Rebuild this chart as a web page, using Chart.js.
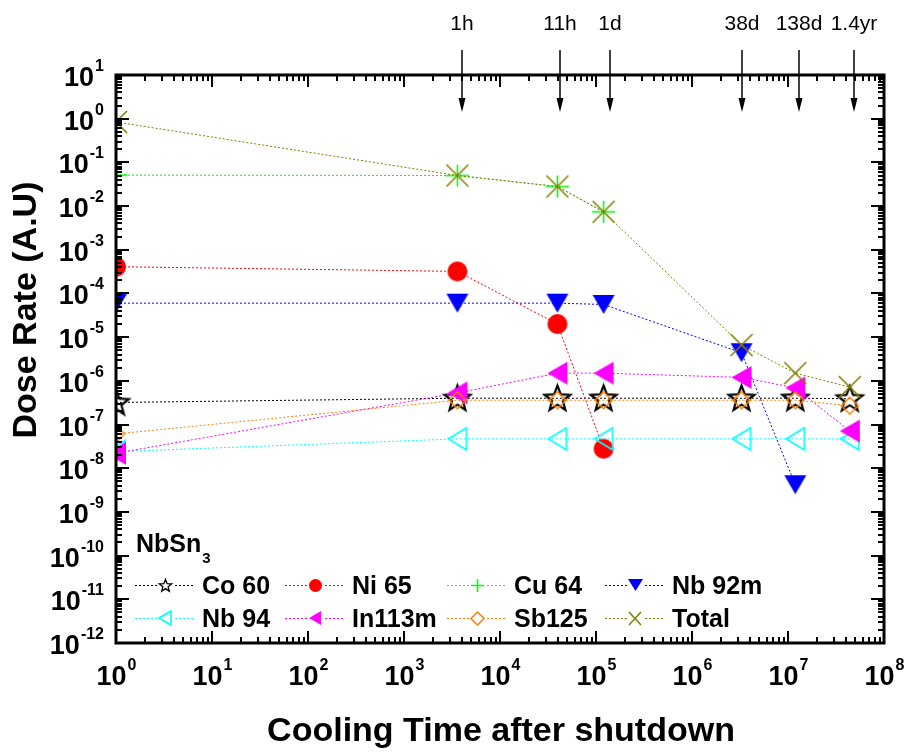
<!DOCTYPE html>
<html>
<head>
<meta charset="utf-8">
<script src="https://cdn.jsdelivr.net/npm/chart.js@4"></script>
<style>
  body { margin: 0; background: #fff; }
  #wrap { width: 906px; height: 754px; }
</style>
</head>
<body>
<div id="wrap"><canvas id="myChart" width="906" height="754"></canvas></div>
<script>
// cooling times (s) of the data points
const coolingTimes = [1, 3600, 39600, 120000, 3.28e6, 1.19e7, 4.4e7];
// dose rate per nuclide (A.U)
const co60 = [3.2e-7, 4.0e-7, 4.0e-7, 4.0e-7, 4.0e-7, 4.0e-7, 3.9e-7];
const ni65 = [4.1e-4, 3.2e-4, 2.0e-5, 2.8e-8];
const cu64 = [0.051, 0.05, 0.028, 0.0074];
const nb92m = [6.0e-5, 6.0e-5, 6.0e-5, 5.6e-5, 4.4e-6, 4.2e-9];
const nb94 = [2.4e-8, 4.7e-8, 4.7e-8, 4.7e-8, 4.7e-8, 4.7e-8, 4.7e-8];
const in113m = [2.2e-8, 5.3e-7, 1.5e-6, 1.5e-6, 1.2e-6, 6.9e-7, 7.1e-8];
const sb125 = [6.1e-8, 3.6e-7, 3.6e-7, 3.6e-7, 3.6e-7, 3.6e-7, 2.7e-7];
const total = [0.84, 0.05, 0.028, 0.0074, 6.6e-6, 1.5e-6, 7.2e-7];
const seriesNames = ["Co 60", "Ni 65", "Cu 64", "Nb 92m", "Nb 94", "In113m", "Sb125", "Total"];

// arrows on top of the plot
const arrowTimes = [4.0e3, 4.2e4, 1.4e5, 3.3e6, 1.3e7, 4.9e7];
const arrowLabels = ["1h", "11h", "1d", "38d", "138d", "1.4yr"];

// axis decades
const xDecades = [0, 1, 2, 3, 4, 5, 6, 7, 8];
const yDecades = [-12, -11, -10, -9, -8, -7, -6, -5, -4, -3, -2, -1, 0, 1];

const FONT = '"Liberation Sans", Arial, sans-serif';

function marker(kind, w, h, color, lw) {
  const pad = 3;
  const c = document.createElement("canvas");
  c.width = w + pad * 2;
  c.height = h + pad * 2;
  const g = c.getContext("2d");
  g.translate(pad, pad);
  g.strokeStyle = color;
  g.fillStyle = color;
  g.lineWidth = lw || 1.5;
  g.beginPath();
  if (kind == "circle") {
    g.arc(w / 2, h / 2, w / 2, 0, Math.PI * 2);
    g.fill();
  } else if (kind == "triDown") {
    g.moveTo(0, 0); g.lineTo(w, 0); g.lineTo(w / 2, h); g.closePath();
    g.fill();
  } else if (kind == "triLeft" || kind == "triLeftOpen") {
    g.moveTo(0, h / 2); g.lineTo(w, 0); g.lineTo(w, h); g.closePath();
    if (kind == "triLeft") g.fill(); else g.stroke();
  } else if (kind == "diamond") {
    g.moveTo(w / 2, 0); g.lineTo(w, h / 2); g.lineTo(w / 2, h); g.lineTo(0, h / 2); g.closePath();
    g.stroke();
  } else if (kind == "plus") {
    g.moveTo(w / 2, 0); g.lineTo(w / 2, h); g.moveTo(0, h / 2); g.lineTo(w, h / 2);
    g.stroke();
  } else if (kind == "cross") {
    g.moveTo(0, 0); g.lineTo(w, h); g.moveTo(w, 0); g.lineTo(0, h);
    g.stroke();
  } else if (kind == "star") {
    const R = w / 2, r = R * 0.42, cx = w / 2, cy = h * 0.53;
    for (let i = 0; i < 10; i++) {
      const a = -Math.PI / 2 + i * Math.PI / 5;
      const rr = i % 2 ? r : R;
      const px = cx + rr * Math.cos(a), py = cy + rr * Math.sin(a);
      if (i == 0) g.moveTo(px, py); else g.lineTo(px, py);
    }
    g.closePath();
    g.stroke();
  }
  return c;
}

const styles = [
  { color: "#000000", kind: "star", w: 27, h: 26, lw: 2.2, lg: [13, 13] },
  { color: "#ff0000", kind: "circle", w: 20, h: 20, lw: 1, lg: [13, 13] },
  { color: "#00ff00", kind: "plus", w: 23, h: 22, lw: 1.6, lg: [13, 13] },
  { color: "#0000ff", kind: "triDown", w: 22, h: 19, lw: 1, lg: [15, 12] },
  { color: "#00ffff", kind: "triLeftOpen", w: 18, h: 22, lw: 1.6, lg: [12, 14] },
  { color: "#ff00ff", kind: "triLeft", w: 20, h: 23, lw: 1, lg: [12, 14] },
  { color: "#ff8000", kind: "diamond", w: 17, h: 17, lw: 1.5, lg: [13, 13] },
  { color: "#808000", kind: "cross", w: 22, h: 22, lw: 1.6, lg: [12, 13] },
];

const allSeries = [co60, ni65, cu64, nb92m, nb94, in113m, sb125, total];

const datasets = allSeries.map((vals, i) => {
  const s = styles[i];
  return {
    label: seriesNames[i],
    data: vals.map((v, j) => ({ x: coolingTimes[j], y: v })),
    borderColor: s.color,
    borderWidth: 1,
    borderDash: [2, 2],
    showLine: true,
    pointStyle: marker(s.kind, s.w, s.h, s.color, s.lw),
    order: 10 - i,
  };
});

function supLabel(ctx, exp, x, y, align) {
  // "10" with a superscript exponent; y is the baseline of "10"
  ctx.font = "bold 27px " + FONT;
  const wb = ctx.measureText("10").width;
  ctx.font = "bold 16px " + FONT;
  const we = ctx.measureText(String(exp)).width;
  let x0 = align == "center" ? x - (wb + we) / 2 : x - wb - we;
  ctx.textAlign = "left";
  ctx.textBaseline = "alphabetic";
  ctx.font = "bold 27px " + FONT;
  ctx.fillText("10", x0, y);
  ctx.font = "bold 16px " + FONT;
  ctx.fillText(String(exp), x0 + wb + 1, y - 15);
}

const decor = {
  id: "decor",
  afterDraw(chart) {
    const ctx = chart.ctx;
    const a = chart.chartArea;
    const xs = chart.scales.x, ys = chart.scales.y;
    ctx.save();
    ctx.fillStyle = "#000";
    ctx.strokeStyle = "#000";

    // tick marks on all four sides, pointing inwards
    ctx.lineWidth = 2;
    ctx.beginPath();
    xDecades.forEach((d) => {
      for (let k = 1; k <= 9; k++) {
        const v = k * Math.pow(10, d);
        if (v > 1e8) break;
        const px = Math.round(xs.getPixelForValue(v));
        const len = k == 1 ? 12 : 6;
        ctx.moveTo(px, a.bottom); ctx.lineTo(px, a.bottom - len);
        ctx.moveTo(px, a.top); ctx.lineTo(px, a.top + len);
      }
    });
    yDecades.forEach((d) => {
      for (let k = 1; k <= 9; k++) {
        const v = k * Math.pow(10, d);
        if (v > 10) break;
        const py = Math.round(ys.getPixelForValue(v));
        const len = k == 1 ? 13 : 6;
        ctx.moveTo(a.left, py); ctx.lineTo(a.left + len, py);
        ctx.moveTo(a.right, py); ctx.lineTo(a.right - len, py);
      }
    });
    ctx.stroke();

    // frame
    ctx.lineWidth = 3;
    ctx.strokeRect(a.left, a.top, a.right - a.left, a.bottom - a.top);

    // tick labels
    xDecades.forEach((d) => {
      supLabel(ctx, d, xs.getPixelForValue(Math.pow(10, d)), a.bottom + 42, "center");
    });
    yDecades.forEach((d) => {
      supLabel(ctx, d, a.left - 13, ys.getPixelForValue(Math.pow(10, d)) + 11, "right");
    });

    // axis titles
    ctx.font = "bold 34px " + FONT;
    ctx.textAlign = "center";
    ctx.textBaseline = "alphabetic";
    ctx.fillText("Cooling Time after shutdown", 501, 741);
    ctx.save();
    ctx.translate(36, 310);
    ctx.rotate(-Math.PI / 2);
    ctx.fillText("Dose Rate (A.U)", 0, 0);
    ctx.restore();

    // arrows with time labels
    ctx.lineWidth = 1.5;
    arrowTimes.forEach((t, i) => {
      const px = Math.round(xs.getPixelForValue(t));
      ctx.beginPath();
      ctx.moveTo(px, 50); ctx.lineTo(px, 100);
      ctx.stroke();
      ctx.beginPath();
      ctx.moveTo(px - 3.5, 98); ctx.lineTo(px + 3.5, 98); ctx.lineTo(px, 112);
      ctx.closePath();
      ctx.fill();
      ctx.font = "21px " + FONT;
      ctx.textAlign = "center";
      ctx.fillText(arrowLabels[i], px, 30);
    });

    // legend
    ctx.textAlign = "left";
    ctx.font = "bold 25px " + FONT;
    ctx.fillText("NbSn", 136, 552);
    const wn = ctx.measureText("NbSn").width;
    ctx.font = "bold 15px " + FONT;
    ctx.fillText("3", 136 + wn + 1, 563);

    const cols = [135, 285, 447, 605];
    const rows = [585, 618];
    chart.data.datasets.forEach((ds, i) => {
      const s = styles[i];
      const x0 = cols[i % 4], y0 = rows[Math.floor(i / 4)];
      ctx.strokeStyle = s.color;
      ctx.lineWidth = 1;
      ctx.setLineDash([2, 2]);
      ctx.beginPath();
      ctx.moveTo(x0, y0 + 0.5); ctx.lineTo(x0 + 60, y0 + 0.5);
      ctx.stroke();
      ctx.setLineDash([]);
      ctx.fillStyle = "#fff";
      ctx.fillRect(x0 + 22, y0 - 8, 16, 16);
      const m = marker(s.kind, s.lg[0], s.lg[1], s.color, s.kind == "star" ? 1.3 : s.lw);
      ctx.drawImage(m, Math.round(x0 + 30 - m.width / 2), Math.round(y0 - m.height / 2));
      ctx.fillStyle = "#000";
      ctx.font = "bold 25px " + FONT;
      ctx.fillText(ds.label, x0 + 67, y0 + 9);
    });
    ctx.restore();
  },
};

const config = {
  type: "scatter",
  data: { datasets },
  options: {
    responsive: false,
    animation: false,
    devicePixelRatio: 1,
    layout: { padding: { left: 116, right: 22, top: 75, bottom: 111 } },
    plugins: { legend: { display: false }, tooltip: { enabled: false } },
    scales: {
      x: { type: "logarithmic", min: 1, max: 1e8, display: false },
      y: { type: "logarithmic", min: 1e-12, max: 10, display: false },
    },
  },
  plugins: [decor],
};

var myChart = new Chart(document.getElementById("myChart"), config);
</script>
</body>
</html>
